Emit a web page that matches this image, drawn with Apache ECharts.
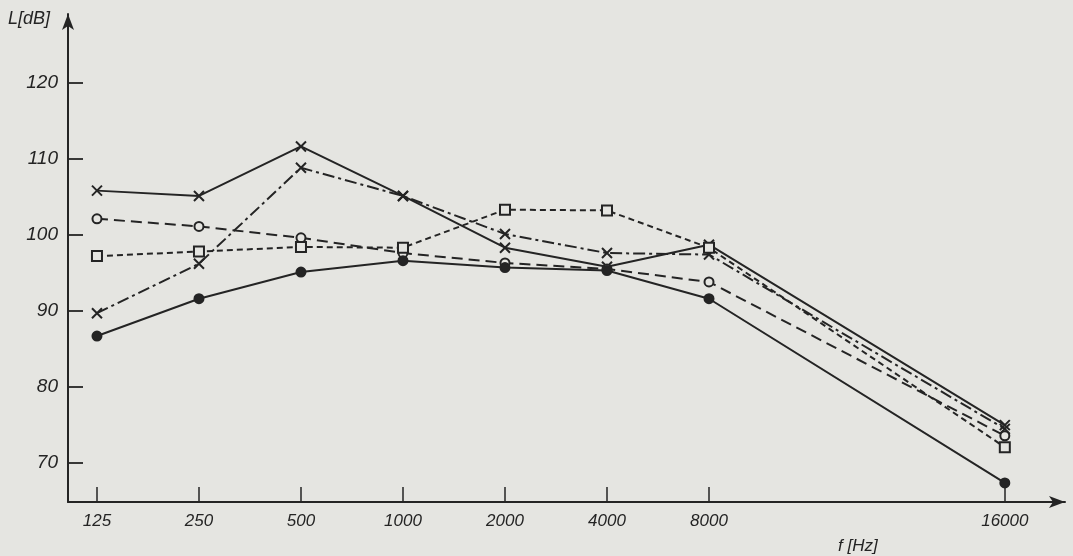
<!DOCTYPE html>
<html><head><meta charset="utf-8">
<script src="https://cdn.jsdelivr.net/npm/echarts@6/dist/echarts.min.js"></script>
<style>html,body{margin:0;padding:0;background:#e5e5e1;}#c{width:1073px;height:556px;}</style>
</head><body><div id="c"></div>
<script>
// Frequencies (tick labels) and their positions along the drawn axis (octave steps; 16000 drawn further out as in the original)
const freqLabels = ['125','250','500','1000','2000','4000','8000','16000'];
const freqPos = [0, 1, 2, 3, 4, 5, 6, 8.9];
const yTicks = [70, 80, 90, 100, 110, 120];

// Series values L [dB]
const solidCross   = [105.8, 105.1, 111.6, 105.1, 98.3, 95.8, 98.7, 75.0];
const dashDotCross = [89.7, 96.2, 108.8, 105.1, 100.1, 97.6, 97.4, 74.5];
const dashCircle   = [102.1, 101.1, 99.6, 97.6, 96.3, 95.5, 93.8, 73.6];
const dashSquare   = [97.2, 97.8, 98.4, 98.3, 103.3, 103.2, 98.3, 72.1];
const solidDot     = [86.7, 91.6, 95.1, 96.6, 95.7, 95.3, 91.6, 67.4];

const ink = '#242424', paper = '#e5e5e1';
const crossPath = 'path://M0,0 L10,10 M10,0 L0,10';
const pts = v => v.map((y, i) => [freqPos[i], y]);

function series(vals, dash, symbol, size, filled) {
  return {
    type: 'line', data: pts(vals), symbol: symbol, symbolSize: size,
    lineStyle: { color: ink, width: 2, type: dash },
    itemStyle: { color: filled ? ink : paper, borderColor: ink, borderWidth: 2 },
    z: 3, animation: false
  };
}

const chart = echarts.init(document.getElementById('c'));
chart.setOption({
  backgroundColor: paper,
  animation: false,
  grid: { left: 68, right: 8, top: 14, bottom: 54 },
  xAxis: {
    type: 'value', min: -0.284, max: 9.49,
    axisLine: { onZero: false, lineStyle: { color: ink, width: 2 }, symbol: ['none', 'arrow'], symbolSize: [9, 16] },
    axisTick: { inside: true, length: 15, lineStyle: { color: ink, width: 1.5 }, customValues: freqPos },
    axisLabel: {
      customValues: freqPos, margin: 11, color: ink, fontSize: 17, fontStyle: 'italic',
      fontFamily: 'Liberation Sans Narrow, Liberation Sans, sans-serif',
      formatter: v => { const i = freqPos.findIndex(p => Math.abs(p - v) < 1e-6); return i >= 0 ? freqLabels[i] : ''; }
    },
    splitLine: { show: false }
  },
  yAxis: {
    type: 'value', min: 64.9, max: 129,
    axisLine: { show: true, onZero: false, lineStyle: { color: ink, width: 2 }, symbol: ['none', 'arrow'], symbolSize: [9, 16] },
    axisTick: { show: true, inside: true, length: 15, lineStyle: { color: ink, width: 1.8 }, customValues: yTicks },
    axisLabel: { customValues: yTicks, margin: 10, color: ink, fontSize: 19, fontStyle: 'italic', fontFamily: 'Liberation Sans, sans-serif' },
    splitLine: { show: false }
  },
  graphic: [
    { type: 'text', left: 8, top: 10, style: { text: 'L[dB]', fill: ink, font: 'italic 18px "Liberation Sans", sans-serif' } },
    { type: 'text', left: 838, top: 538, style: { text: 'f [Hz]', fill: ink, font: 'italic 17px "Liberation Sans", sans-serif' } }
  ],
  series: [
    series(solidCross, 'solid', crossPath, 10, true),
    series(dashDotCross, [12, 4, 3, 4], crossPath, 10, true),
    series(dashCircle, [11, 6], 'circle', 9, false),
    series(dashSquare, [6, 4], 'rect', 10, false),
    series(solidDot, 'solid', 'circle', 9, true)
  ]
});
</script></body></html>
